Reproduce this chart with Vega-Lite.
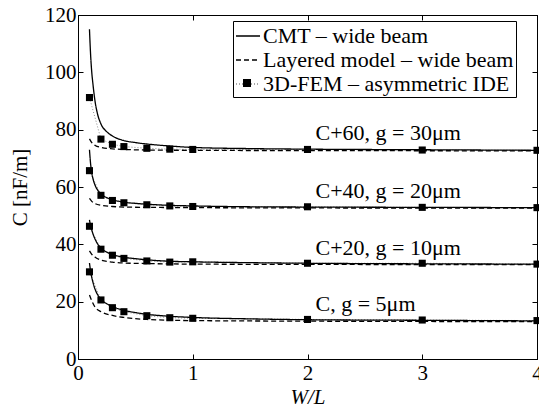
{
  "$schema": "https://vega.github.io/schema/vega-lite/v6.json",
  "width": 459,
  "height": 344,
  "autosize": {"type": "none"},
  "padding": {"left": 78, "top": 15, "right": 2, "bottom": 48},
  "background": "white",
  "config": {
    "view": {"stroke": "black", "strokeWidth": 1},
    "font": "Liberation Serif",
    "legend": {"symbolBaseStrokeColor": "black", "symbolBaseFillColor": "black"},
    "axis": {
      "grid": false,
      "labelFont": "Liberation Serif",
      "labelFontSize": 21,
      "labelColor": "black",
      "tickColor": "black",
      "domainColor": "black",
      "tickSize": -5,
      "labelFlush": false,
      "labelOverlap": false,
      "titleFont": "Liberation Serif",
      "titleFontSize": 21,
      "titleFontWeight": "normal",
      "titleColor": "black"
    }
  },
  "datasets": {
    "cmt": [
      {"g": "C+60", "x": 0.1, "y": 115}, {"g": "C+60", "x": 0.11, "y": 106}, {"g": "C+60", "x": 0.12, "y": 100}, {"g": "C+60", "x": 0.13, "y": 96}, {"g": "C+60", "x": 0.15, "y": 89.5}, {"g": "C+60", "x": 0.17, "y": 85.5}, {"g": "C+60", "x": 0.2, "y": 82}, {"g": "C+60", "x": 0.25, "y": 79.3}, {"g": "C+60", "x": 0.3, "y": 77.8}, {"g": "C+60", "x": 0.4, "y": 76.2}, {"g": "C+60", "x": 0.5, "y": 75.5}, {"g": "C+60", "x": 0.6, "y": 75.0}, {"g": "C+60", "x": 0.8, "y": 74.3}, {"g": "C+60", "x": 1, "y": 73.8}, {"g": "C+60", "x": 1.5, "y": 73.4}, {"g": "C+60", "x": 2, "y": 73.2}, {"g": "C+60", "x": 3, "y": 73.0}, {"g": "C+60", "x": 4, "y": 72.8},
      {"g": "C+40", "x": 0.1, "y": 73}, {"g": "C+40", "x": 0.11, "y": 68}, {"g": "C+40", "x": 0.12, "y": 65}, {"g": "C+40", "x": 0.13, "y": 63}, {"g": "C+40", "x": 0.15, "y": 60.5}, {"g": "C+40", "x": 0.17, "y": 59}, {"g": "C+40", "x": 0.2, "y": 57.6}, {"g": "C+40", "x": 0.25, "y": 56.3}, {"g": "C+40", "x": 0.3, "y": 55.6}, {"g": "C+40", "x": 0.4, "y": 54.7}, {"g": "C+40", "x": 0.5, "y": 54.3}, {"g": "C+40", "x": 0.6, "y": 54.0}, {"g": "C+40", "x": 0.8, "y": 53.6}, {"g": "C+40", "x": 1, "y": 53.4}, {"g": "C+40", "x": 1.5, "y": 53.1}, {"g": "C+40", "x": 2, "y": 53.0}, {"g": "C+40", "x": 3, "y": 52.9}, {"g": "C+40", "x": 4, "y": 52.8},
      {"g": "C+20", "x": 0.1, "y": 48.5}, {"g": "C+20", "x": 0.11, "y": 46.5}, {"g": "C+20", "x": 0.12, "y": 45}, {"g": "C+20", "x": 0.13, "y": 43.7}, {"g": "C+20", "x": 0.15, "y": 41.7}, {"g": "C+20", "x": 0.17, "y": 40.2}, {"g": "C+20", "x": 0.2, "y": 38.7}, {"g": "C+20", "x": 0.25, "y": 37.3}, {"g": "C+20", "x": 0.3, "y": 36.5}, {"g": "C+20", "x": 0.4, "y": 35.5}, {"g": "C+20", "x": 0.5, "y": 35.0}, {"g": "C+20", "x": 0.6, "y": 34.6}, {"g": "C+20", "x": 0.8, "y": 34.1}, {"g": "C+20", "x": 1, "y": 33.9}, {"g": "C+20", "x": 1.5, "y": 33.6}, {"g": "C+20", "x": 2, "y": 33.4}, {"g": "C+20", "x": 3, "y": 33.2}, {"g": "C+20", "x": 4, "y": 33.1},
      {"g": "C", "x": 0.1, "y": 33.5}, {"g": "C", "x": 0.11, "y": 30.5}, {"g": "C", "x": 0.12, "y": 28.5}, {"g": "C", "x": 0.13, "y": 26.8}, {"g": "C", "x": 0.15, "y": 24.2}, {"g": "C", "x": 0.17, "y": 22.5}, {"g": "C", "x": 0.2, "y": 20.8}, {"g": "C", "x": 0.25, "y": 19.3}, {"g": "C", "x": 0.3, "y": 18.3}, {"g": "C", "x": 0.4, "y": 17.0}, {"g": "C", "x": 0.5, "y": 16.2}, {"g": "C", "x": 0.6, "y": 15.6}, {"g": "C", "x": 0.8, "y": 14.9}, {"g": "C", "x": 1, "y": 14.5}, {"g": "C", "x": 1.5, "y": 14.0}, {"g": "C", "x": 2, "y": 13.7}, {"g": "C", "x": 3, "y": 13.5}, {"g": "C", "x": 4, "y": 13.3}
    ],
    "layered": [
      {"g": "C+60", "x": 0.1, "y": 76.8}, {"g": "C+60", "x": 0.12, "y": 75.5}, {"g": "C+60", "x": 0.15, "y": 74.5}, {"g": "C+60", "x": 0.2, "y": 73.8}, {"g": "C+60", "x": 0.3, "y": 73.3}, {"g": "C+60", "x": 0.4, "y": 73.1}, {"g": "C+60", "x": 0.6, "y": 72.9}, {"g": "C+60", "x": 1, "y": 72.8}, {"g": "C+60", "x": 2, "y": 72.7}, {"g": "C+60", "x": 3, "y": 72.65}, {"g": "C+60", "x": 4, "y": 72.6},
      {"g": "C+40", "x": 0.1, "y": 56}, {"g": "C+40", "x": 0.12, "y": 55}, {"g": "C+40", "x": 0.15, "y": 54.2}, {"g": "C+40", "x": 0.2, "y": 53.6}, {"g": "C+40", "x": 0.3, "y": 53.2}, {"g": "C+40", "x": 0.4, "y": 53.0}, {"g": "C+40", "x": 0.6, "y": 52.9}, {"g": "C+40", "x": 1, "y": 52.8}, {"g": "C+40", "x": 2, "y": 52.7}, {"g": "C+40", "x": 3, "y": 52.65}, {"g": "C+40", "x": 4, "y": 52.6},
      {"g": "C+20", "x": 0.1, "y": 37.7}, {"g": "C+20", "x": 0.12, "y": 36.5}, {"g": "C+20", "x": 0.15, "y": 35.5}, {"g": "C+20", "x": 0.2, "y": 34.5}, {"g": "C+20", "x": 0.3, "y": 33.8}, {"g": "C+20", "x": 0.4, "y": 33.5}, {"g": "C+20", "x": 0.6, "y": 33.3}, {"g": "C+20", "x": 1, "y": 33.1}, {"g": "C+20", "x": 2, "y": 33.0}, {"g": "C+20", "x": 3, "y": 32.95}, {"g": "C+20", "x": 4, "y": 32.9},
      {"g": "C", "x": 0.1, "y": 22.3}, {"g": "C", "x": 0.12, "y": 20.3}, {"g": "C", "x": 0.15, "y": 18.0}, {"g": "C", "x": 0.2, "y": 16.5}, {"g": "C", "x": 0.3, "y": 15.2}, {"g": "C", "x": 0.4, "y": 14.5}, {"g": "C", "x": 0.6, "y": 13.8}, {"g": "C", "x": 1, "y": 13.4}, {"g": "C", "x": 2, "y": 13.2}, {"g": "C", "x": 3, "y": 13.1}, {"g": "C", "x": 4, "y": 13.0}
    ],
    "fem": [
      {"g": "C+60", "x": 0.1, "y": 91.2}, {"g": "C+60", "x": 0.2, "y": 76.7}, {"g": "C+60", "x": 0.3, "y": 74.9}, {"g": "C+60", "x": 0.4, "y": 74.1}, {"g": "C+60", "x": 0.6, "y": 73.5}, {"g": "C+60", "x": 0.8, "y": 73.2}, {"g": "C+60", "x": 1, "y": 73.1}, {"g": "C+60", "x": 2, "y": 73.1}, {"g": "C+60", "x": 3, "y": 72.9}, {"g": "C+60", "x": 4, "y": 72.8},
      {"g": "C+40", "x": 0.1, "y": 65.7}, {"g": "C+40", "x": 0.2, "y": 57.1}, {"g": "C+40", "x": 0.3, "y": 55.3}, {"g": "C+40", "x": 0.4, "y": 54.5}, {"g": "C+40", "x": 0.6, "y": 53.8}, {"g": "C+40", "x": 0.8, "y": 53.4}, {"g": "C+40", "x": 1, "y": 53.2}, {"g": "C+40", "x": 2, "y": 53.1}, {"g": "C+40", "x": 3, "y": 52.9}, {"g": "C+40", "x": 4, "y": 52.8},
      {"g": "C+20", "x": 0.1, "y": 46.3}, {"g": "C+20", "x": 0.2, "y": 38.3}, {"g": "C+20", "x": 0.3, "y": 36.2}, {"g": "C+20", "x": 0.4, "y": 35.1}, {"g": "C+20", "x": 0.6, "y": 34.2}, {"g": "C+20", "x": 0.8, "y": 33.8}, {"g": "C+20", "x": 1, "y": 33.9}, {"g": "C+20", "x": 2, "y": 33.4}, {"g": "C+20", "x": 3, "y": 33.4}, {"g": "C+20", "x": 4, "y": 33.1},
      {"g": "C", "x": 0.1, "y": 30.4}, {"g": "C", "x": 0.2, "y": 20.6}, {"g": "C", "x": 0.3, "y": 17.9}, {"g": "C", "x": 0.4, "y": 16.5}, {"g": "C", "x": 0.6, "y": 15.1}, {"g": "C", "x": 0.8, "y": 14.4}, {"g": "C", "x": 1, "y": 14.2}, {"g": "C", "x": 2, "y": 13.8}, {"g": "C", "x": 3, "y": 13.6}, {"g": "C", "x": 4, "y": 13.4}
    ],
    "labels": [
      {"t": "C+60, g = 30μm", "x": 2.07, "y": 76.5},
      {"t": "C+40, g = 20μm", "x": 2.07, "y": 56.3},
      {"t": "C+20, g = 10μm", "x": 2.07, "y": 36.3},
      {"t": "C, g = 5μm", "x": 2.07, "y": 16.8}
    ]
  },
  "layer": [
    {
      "data": {"name": "fem"},
      "mark": {"type": "line", "strokeWidth": 1},
      "encoding": {
        "x": {"field": "x", "type": "quantitative", "scale": {"domain": [0, 4], "nice": false},
              "axis": {"values": [0, 1, 2, 3, 4], "title": "W/L", "titleFontStyle": "italic", "labelPadding": 8, "titlePadding": 3}},
        "y": {"field": "y", "type": "quantitative", "scale": {"domain": [0, 120], "nice": false},
              "axis": {"values": [0, 20, 40, 60, 80, 100, 120], "title": "C [nF/m]", "labelPadding": 7, "titlePadding": 14}},
        "detail": {"field": "g"},
        "color": {
          "datum": "3D-FEM – asymmetric IDE",
          "scale": {"domain": ["CMT – wide beam", "Layered model – wide beam", "3D-FEM – asymmetric IDE"], "range": ["black", "black", "#8c8c8c"]},
          "legend": {
            "title": null, "orient": "none", "legendX": 155, "legendY": 6,
            "strokeColor": "black", "fillColor": "white", "padding": 2, "cornerRadius": 0,
            "labelFont": "Liberation Serif", "labelFontSize": 22, "labelColor": "black", "labelLimit": 0, "labelOffset": 2,
            "symbolSize": 576, "symbolStrokeWidth": 1.3, "symbolOpacity": 1, "rowPadding": 0
          }
        },
        "strokeDash": {
          "datum": "3D-FEM – asymmetric IDE",
          "scale": {"domain": ["CMT – wide beam", "Layered model – wide beam", "3D-FEM – asymmetric IDE"], "range": [[1, 0], [5, 3], [1, 2]]},
          "legend": {
            "title": null, "orient": "none", "legendX": 155, "legendY": 6,
            "strokeColor": "black", "fillColor": "white", "padding": 2, "cornerRadius": 0,
            "labelFont": "Liberation Serif", "labelFontSize": 22, "labelColor": "black", "labelLimit": 0, "labelOffset": 2,
            "symbolSize": 576, "symbolStrokeWidth": 1.3, "symbolOpacity": 1, "rowPadding": 0
          }
        }
      }
    },
    {
      "data": {"name": "layered"},
      "mark": {"type": "line", "strokeWidth": 1.3, "interpolate": "monotone"},
      "encoding": {
        "x": {"field": "x", "type": "quantitative", "axis": null},
        "y": {"field": "y", "type": "quantitative", "axis": null},
        "detail": {"field": "g"},
        "color": {"datum": "Layered model – wide beam"},
        "strokeDash": {"datum": "Layered model – wide beam"}
      }
    },
    {
      "data": {"name": "cmt"},
      "mark": {"type": "line", "strokeWidth": 1.3, "interpolate": "monotone"},
      "encoding": {
        "x": {"field": "x", "type": "quantitative", "axis": null},
        "y": {"field": "y", "type": "quantitative", "axis": null},
        "detail": {"field": "g"},
        "color": {"datum": "CMT – wide beam"},
        "strokeDash": {"datum": "CMT – wide beam"}
      }
    },
    {
      "data": {"name": "fem"},
      "mark": {"type": "point", "filled": true, "fill": "black", "stroke": null, "size": 50, "opacity": 1},
      "encoding": {
        "x": {"field": "x", "type": "quantitative", "axis": null},
        "y": {"field": "y", "type": "quantitative", "axis": null},
        "shape": {
          "datum": "3D-FEM – asymmetric IDE",
          "scale": {"domain": ["3D-FEM – asymmetric IDE"], "range": ["square"]},
          "legend": {
            "title": null, "orient": "none", "legendX": 165, "legendY": 64,
            "padding": 0, "strokeColor": null, "fillColor": null,
            "labelExpr": "''", "labelFontSize": 8, "labelOffset": 0,
            "symbolSize": 64, "symbolFillColor": "black", "symbolStrokeColor": "black", "symbolStrokeWidth": 0, "symbolOpacity": 1, "rowPadding": 0
          }
        }
      }
    },
    {
      "data": {"name": "labels"},
      "mark": {"type": "text", "align": "left", "baseline": "alphabetic", "font": "Liberation Serif", "fontSize": 22, "color": "black"},
      "encoding": {
        "x": {"field": "x", "type": "quantitative", "axis": {"orient": "top", "values": [0, 1, 2, 3, 4], "labels": false, "title": null}},
        "y": {"field": "y", "type": "quantitative", "axis": {"orient": "right", "values": [0, 20, 40, 60, 80, 100, 120], "labels": false, "title": null}},
        "text": {"field": "t"}
      }
    }
  ],
  "resolve": {"axis": {"x": "independent", "y": "independent"}}
}
